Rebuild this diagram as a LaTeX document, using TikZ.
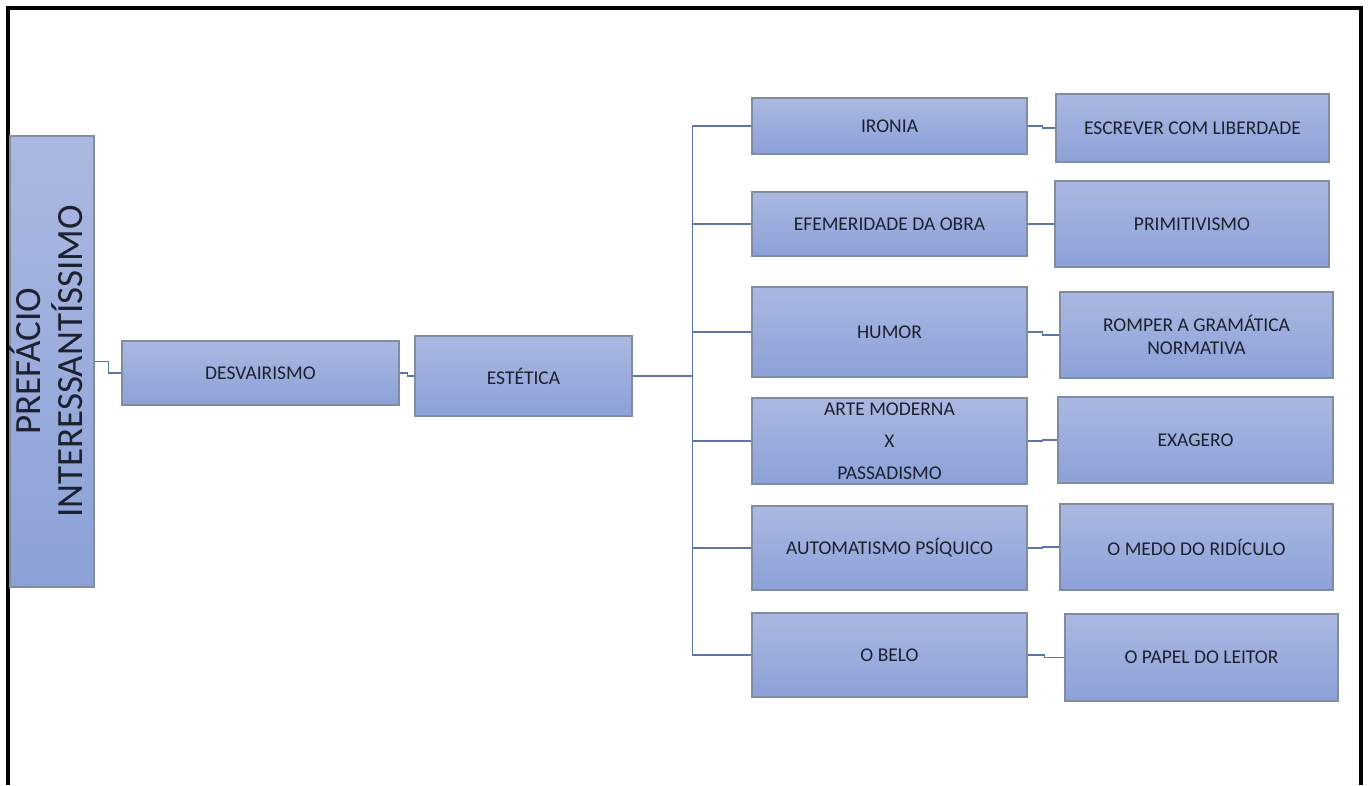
\documentclass[tikz,border=0pt]{standalone}
\usepackage{fontspec}
\setmainfont{Carlito}
\usetikzlibrary{positioning}
\definecolor{boxtop}{RGB}{171,184,225}
\definecolor{boxbot}{RGB}{140,161,216}
\definecolor{boxline}{RGB}{128,140,162}
\definecolor{boxtext}{RGB}{28,33,48}
\definecolor{linkc}{RGB}{92,118,170}

\begin{document}
\begin{tikzpicture}[x=1pt,y=-1pt, box/.style={draw=boxline,line width=1.3pt,top color=boxtop,bottom color=boxbot,inner sep=0pt,align=center,text=boxtext,font=\fontsize{19.5}{23}\selectfont}, link/.style={draw=linkc,line width=1.3pt}]
\useasboundingbox (0,0) rectangle (1369,785);
\draw[line width=4.5pt] (8,785) -- (8,8) -- (1361,8) -- (1361,785);
% first level
\node[box,minimum width=84pt,minimum height=451pt] (pref) at (52,361.5) {\rotatebox{90}{\fontsize{37}{37}\selectfont\begin{tabular}{@{}c@{}}PREFÁCIO\\INTERESSANTÍSSIMO\end{tabular}}};
\node[box,minimum width=277pt,minimum height=64pt] (desv) at (260.5,373) {DESVAIRISMO};
\node[box,minimum width=217pt,minimum height=80pt] (est) at (523.5,376) {ESTÉTICA};
% middle column
\node[box,minimum width=275pt,minimum height=56pt] (irn) at (889.5,126) {IRONIA};
\node[box,minimum width=275pt,minimum height=64pt] (efe) at (889.5,224) {EFEMERIDADE DA OBRA};
\node[box,minimum width=275pt,minimum height=90pt] (hum) at (889.5,332) {HUMOR};
\node[box,minimum width=275pt,minimum height=86pt] (arte) at (889.5,441) {ARTE MODERNA\\[9pt]X\\[9pt]PASSADISMO};
\node[box,minimum width=275pt,minimum height=84pt] (auto) at (889.5,548) {AUTOMATISMO PSÍQUICO};
\node[box,minimum width=275pt,minimum height=84pt] (belo) at (889.5,655) {O BELO};
% right column
\node[box,minimum width=273pt,minimum height=68pt] (esc) at (1192.5,128) {ESCREVER COM LIBERDADE};
\node[box,minimum width=274pt,minimum height=86pt] (prim) at (1192,224) {PRIMITIVISMO};
\node[box,minimum width=273pt,minimum height=86pt] (romp) at (1196.5,335) {ROMPER A GRAMÁTICA\\NORMATIVA};
\node[box,minimum width=275pt,minimum height=86pt] (exa) at (1195.5,440) {EXAGERO};
\node[box,minimum width=273pt,minimum height=86pt] (medo) at (1196.5,547) {O MEDO DO RIDÍCULO};
\node[box,minimum width=273pt,minimum height=87pt] (papel) at (1201.5,657.5) {O PAPEL DO LEITOR};
% connectors
\draw[link] (pref.east) -- ++(14,0) |- (desv.west); \draw[link] (desv.east) -- ++(8,0) |- (est.west);
\foreach \c in {irn,efe,hum,arte,auto,belo} \draw[link] (est.east) -- ++(60,0) |- (\c.west);
\draw[link] (irn.east) -- ++(15,0) |- (esc.west); \draw[link] (efe.east) -- ++(14,0) |- (prim.west); \draw[link] (hum.east) -- ++(15,0) |- (romp.west);
\draw[link] (arte.east) -- ++(15,0) |- (exa.west); \draw[link] (auto.east) -- ++(15,0) |- (medo.west); \draw[link] (belo.east) -- ++(17,0) |- (papel.west);
\end{tikzpicture}
\end{document}
